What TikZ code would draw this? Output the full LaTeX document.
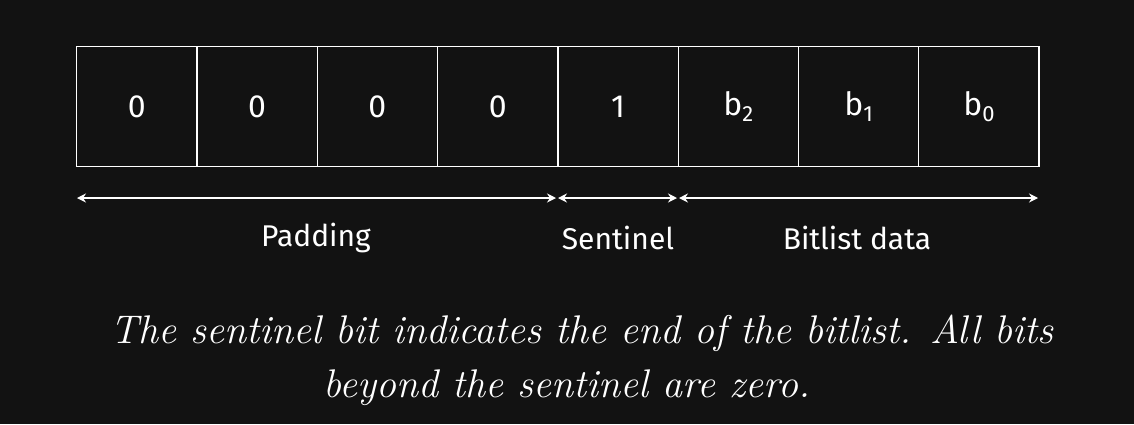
\documentclass[tikz,border=0pt]{standalone}
\usepackage{fontspec}
\newfontfamily\hand{Fira Sans}
\usetikzlibrary{arrows.meta}
\definecolor{bg}{HTML}{121212}
\begin{document}
\begin{tikzpicture}[x=1pt,y=-1pt,
  cell/.style={draw=white, line width=1.3pt, minimum width=120.3pt, minimum height=120pt,
    inner sep=0pt, anchor=north west, text=white, font=\hand\fontsize{32}{32}\selectfont},
  span/.style={draw=white, line width=1.3pt, {Stealth[length=9pt,width=9pt]}-{Stealth[length=9pt,width=9pt]}},
  lbl/.style={text=white, inner sep=0pt, font=\hand\fontsize{30}{30}\selectfont},
  captext/.style={text=white, inner sep=0pt, font=\itshape\fontsize{40}{40}\selectfont}]
\fill[bg] (0,0) rectangle (1134,424);
\useasboundingbox (0,0) rectangle (1134,424);
\node[cell] (c0) at (76,46) {0};
\node[cell] (c1) at (196.3,46) {0};
\node[cell] (c2) at (316.6,46) {0};
\node[cell] (c3) at (436.9,46) {0};
\node[cell] (c4) at (557.2,46) {1};
\node[cell] (c5) at (677.5,46) {b\raisebox{-6pt}{\fontsize{22}{22}\selectfont 2}};
\node[cell] (c6) at (797.8,46) {b\raisebox{-6pt}{\fontsize{22}{22}\selectfont 1}};
\node[cell] (c7) at (918.1,46) {b\raisebox{-6pt}{\fontsize{22}{22}\selectfont 0}};
\coordinate (a0) at (77,198);
\coordinate (a1) at (556,198);
\coordinate (a2) at (558,198);
\coordinate (a3) at (677,198);
\coordinate (a4) at (679,198);
\coordinate (a5) at (1038,198);
\draw[span] (a0) -- (a1);
\draw[span] (a2) -- (a3);
\draw[span] (a4) -- (a5);
\node[lbl] (lp) at (316,238) {Padding};
\node[lbl] (ls) at (618,238) {Sentinel};
\node[lbl] (lb) at (857,238) {Bitlist data};
\node[captext] (cap1) at (582,333) {The sentinel bit indicates the end of the bitlist. All bits};
\node[captext] (cap2) at (567,388) {beyond the sentinel are zero.};
\end{tikzpicture}
\end{document}
